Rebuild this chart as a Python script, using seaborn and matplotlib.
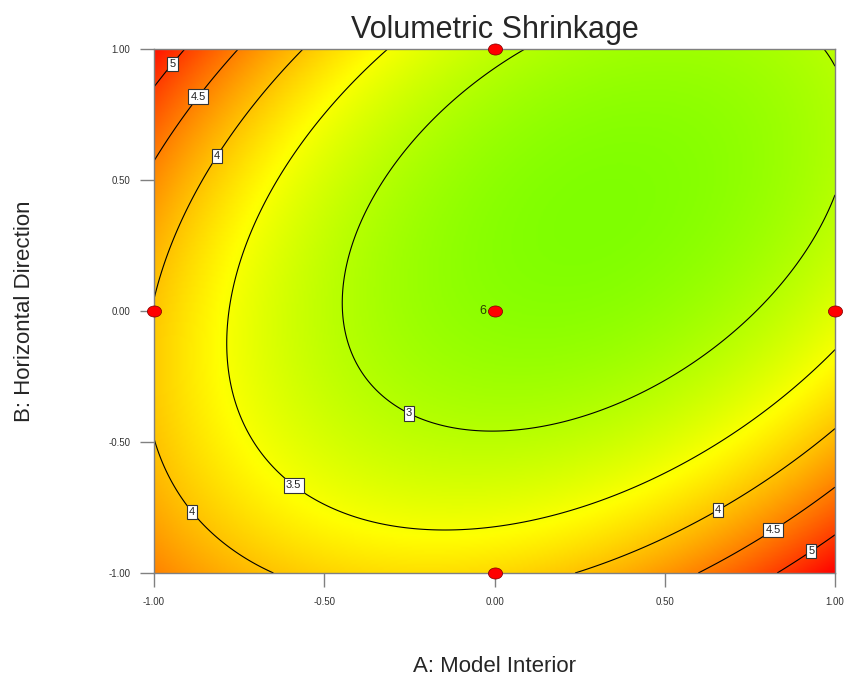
import numpy as np
import pandas as pd
import seaborn as sns
import matplotlib
matplotlib.use("Agg")
import matplotlib.pyplot as plt
from matplotlib.colors import LinearSegmentedColormap
from matplotlib.path import Path
from matplotlib.transforms import Affine2D
from matplotlib import font_manager

# ---- data ----
# response model in coded units, square-root transform:
# sqrt(Shrinkage) = b0 + bA*A + bB*B + bAB*A*B + bAA*A^2 + bBB*B^2
coef_names = ["Intercept", "A", "B", "AB", "A^2", "B^2"]
coef_values = [1.6398, -0.0866, -0.1017, -0.1975, 0.2688, 0.2172]
contour_levels = [3.0, 3.5, 4.0, 4.5, 5.0]

# contour label positions (A, B)
label_A = [-0.953, -0.88, -0.827, -0.871, -0.58, -0.248, 0.653, 0.812, 0.924]
label_B = [0.95, 0.828, 0.603, -0.748, -0.649, -0.382, -0.752, -0.824, -0.905]

# design points
design_A = [0.0, -1.0, 0.0, 1.0, 0.0]
design_B = [1.0, 0.0, 0.0, 0.0, -1.0]
center_replicates = "6"

tick_values = [-1.0, -0.5, 0.0, 0.5, 1.0]
tick_labels = ["-1.00", "-0.50", "0.00", "0.50", "1.00"]

title = "Volumetric Shrinkage"
x_title = "A: Model Interior"
y_title = "B: Horizontal Direction"

# ---- style ----
sns.set_style("white")
plt.rcParams["font.family"] = ["Liberation Sans", "DejaVu Sans"]
names = {f.name for f in font_manager.fontManager.ttflist}
narrow = "Liberation Sans Narrow" if "Liberation Sans Narrow" in names else "Liberation Sans"

fig = plt.figure(figsize=(8.49, 6.89), dpi=100)
ax = fig.add_axes([154 / 849, 116 / 689, 681 / 849, 524 / 689])

# surface
g = np.linspace(-1, 1, 401)
AA, BB = np.meshgrid(g, g)
b0, b1, b2, b12, b11, b22 = coef_values
Q = b0 + b1 * AA + b2 * BB + b12 * AA * BB + b11 * AA ** 2 + b22 * BB ** 2
Z = Q ** 2
zmin, zmax = Z.min(), Z.max()
yellow_at = 3.55
pos_y = (yellow_at - zmin) / (zmax - zmin)
cmap = LinearSegmentedColormap.from_list(
    "de", [(0.0, (0.5, 1.0, 0.0)), (pos_y, (1.0, 1.0, 0.0)), (1.0, (1.0, 0.0, 0.0))]
)
ax.imshow(Z, extent=(-1, 1, -1, 1), origin="lower", cmap=cmap, vmin=zmin, vmax=zmax,
          aspect="auto", interpolation="bilinear", zorder=0)

cs = ax.contour(AA, BB, Z, levels=contour_levels, colors="black", linewidths=0.8, zorder=2)
ax.clabel(cs, manual=list(zip(label_A, label_B)), inline=False,
          fmt=lambda v: f"{v:g}", fontsize=8, zorder=4)
for t in cs.labelTexts:
    t.set_rotation(0)
    t.set_color("#222222")
    t.set_bbox(dict(facecolor="white", edgecolor="#333333", boxstyle="square,pad=0.2", linewidth=0.8))

# design points as ellipses
circ = Path.unit_circle()
ell = Path(Affine2D().scale(1.0, 0.78).transform(circ.vertices), circ.codes)
pts = pd.DataFrame({"A": design_A, "B": design_B})
sns.scatterplot(data=pts, x="A", y="B", marker=ell, s=105, color="#ff0000",
                edgecolor="#7a0000", linewidth=0.5, clip_on=False, zorder=6, ax=ax)
ax.text(design_A[2] - 0.025, design_B[2], center_replicates, ha="right", va="center",
        fontsize=9, color="#2a3f00", zorder=6)

ax.set_xlim(-1, 1)
ax.set_ylim(-1, 1)
ax.set_xticks(tick_values)
ax.set_xticklabels(tick_labels, fontfamily=narrow, fontsize=7, color="#333333")
ax.set_yticks(tick_values)
ax.set_yticklabels(tick_labels, fontfamily=narrow, fontsize=7, color="#333333")
ax.tick_params(axis="both", direction="out", length=10, width=1, color="#808080", pad=7,
               bottom=True, left=True)
for s in ax.spines.values():
    s.set_color("#808080")
    s.set_linewidth(1)
    s.set_zorder(3)

ax.set_title(title, fontsize=22, pad=8)
ax.set_xlabel(x_title, fontsize=16)
ax.xaxis.set_label_coords(0.5, -0.158)
ax.set_ylabel(y_title, fontsize=16)
ax.yaxis.set_label_coords(-0.175, 0.5)

fig.savefig("out.png", dpi=100)
